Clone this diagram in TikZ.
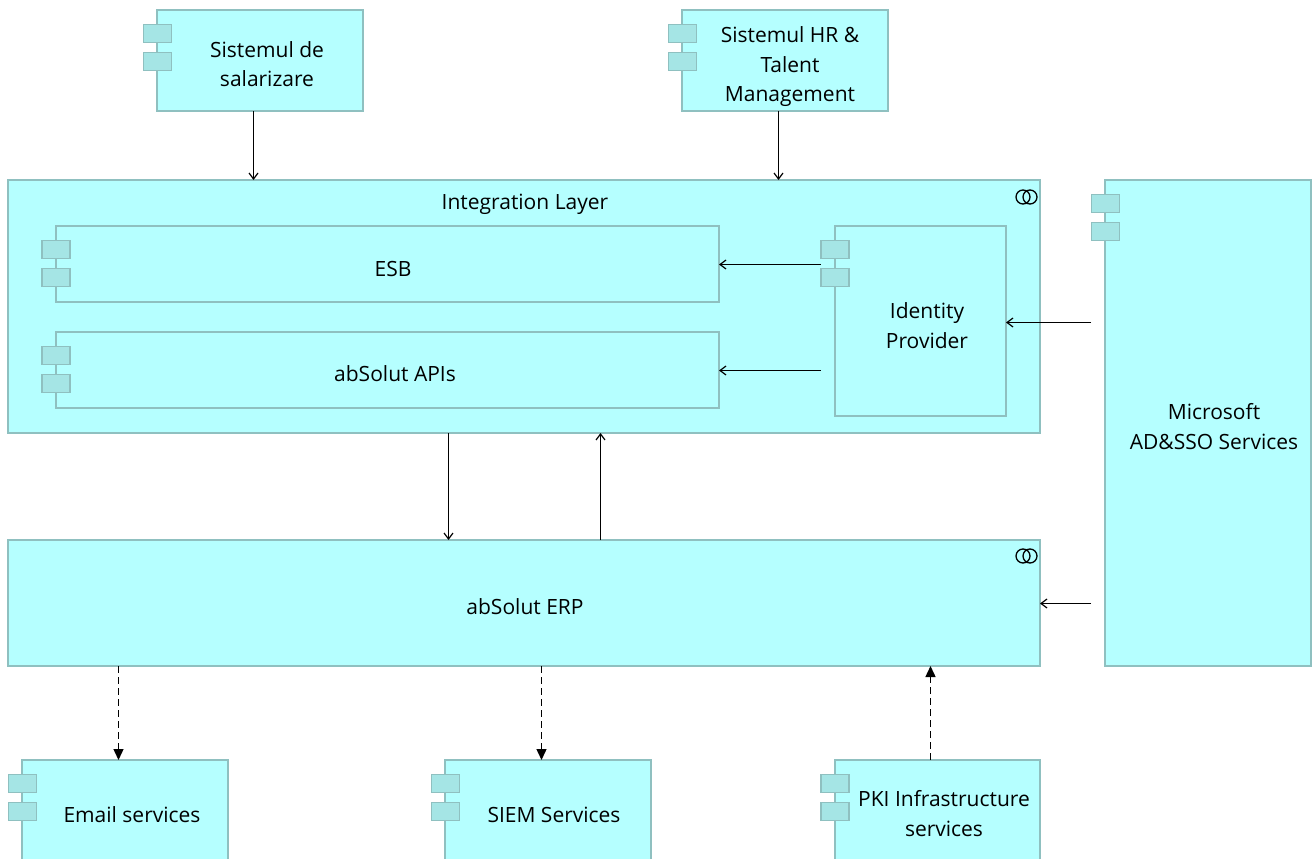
\documentclass[tikz,border=0pt]{standalone}
\usepackage{fontspec}
\setmainfont{Open Sans}
\usetikzlibrary{arrows.meta,calc}
\definecolor{boxfill}{HTML}{B5FFFF}
\definecolor{boxline}{HTML}{8FC0C0}
\definecolor{tabfill}{HTML}{A5E5E5}
\tikzset{
  appbox/.style={draw=boxline,fill=boxfill,line width=1.2pt,anchor=north west,inner sep=0pt,outer sep=0pt},
  tabbox/.style={draw=boxline,fill=tabfill,line width=1.2pt,minimum width=28pt,minimum height=18.5pt,inner sep=0pt,outer sep=0pt},
  boxtext/.style={align=center,inner sep=0pt,font=\fontsize{21}{29.5}\selectfont},
  flow/.style={-{Straight Barb[length=6pt,width=9pt]},line width=1.2pt},
  depends/.style={-{Triangle[length=11pt,width=10pt]},line width=1.4pt,dash pattern=on 7pt off 4pt}
}
\begin{document}
\begin{tikzpicture}[x=1pt,y=-1pt]

      \clip (0,0) rectangle (1314,859);
      \fill[white] (0,0) rectangle (1314,859);

      % boxes
      \foreach \name/\xa/\ya/\w/\h in {sal/157/10/206/101,hr/682/10/206/101,
        int/8/180/1032/253,esb/56/226/663/76,api/56/332/663/76,idp/835/226/171/190,
        ms/1105/180/206/486,erp/8/540/1032/126,
        email/22/760/206/130,siem/445/760/206/130,pki/835/760/205/130}
        \node[appbox,minimum width=\w pt,minimum height=\h pt] (\name) at (\xa,\ya) {};

      % component tabs
      \foreach \name/\xt/\yt in {sal/157.5/10,hr/682.5/10,esb/56/226,api/56/332,idp/835/226,
        ms/1105.5/180,email/22.5/760,siem/445.5/760,pki/835/760}{
        \node[tabbox] (\name-tabA) at (\xt,\yt+23.5) {};
        \node[tabbox] (\name-tabB) at (\xt,\yt+51.5) {};
      }

      % collaboration rings
      \foreach \name/\yt in {int/197,erp/556}{
        \draw[line width=1.3pt] (1023,\yt) circle (7pt);
        \draw[line width=1.3pt] (1030,\yt) circle (7pt);
      }

      % labels
      \node[boxtext] (salText) at (267,64) {Sistemul de\\salarizare};
      \node[boxtext] (hrText) at (790,67) {Sistemul HR \&\\Talent\\Management};
      \node[boxtext] (intText) at (525,204) {Integration Layer};
      \node[boxtext] (esbText) at (393,268.5) {ESB};
      \node[boxtext] (apiText) at (395,374) {abSolut APIs};
      \node[boxtext] (idpText) at (927,325.5) {Identity\\Provider};
      \node[boxtext] (msText) at (1214,426.5) {Microsoft\\AD\&SSO Services};
      \node[boxtext] (erpText) at (525,607) {abSolut ERP};
      \node[boxtext] (emailText) at (132,814.5) {Email services};
      \node[boxtext] (siemText) at (554,814.5) {SIEM Services};
      \node[boxtext] (pkiText) at (944,813.5) {PKI Infrastructure\\services};

      % connectors
      \draw[flow] (253.5,0 |- sal.south) -- (253.5,0 |- int.north);
      \draw[flow] (778.5,0 |- hr.south) -- (778.5,0 |- int.north);
      \draw[flow] (0,264.5 -| idp.west) ++(-14.5,0) -- (0,264.5 -| esb.east);
      \draw[flow] (0,370.5 -| idp.west) ++(-14.5,0) -- (0,370.5 -| api.east);
      \draw[flow] (0,322.5 -| ms.west) ++(-14,0) -- (0,322.5 -| idp.east);
      \draw[flow] (0,603.5 -| ms.west) ++(-14,0) -- (0,603.5 -| erp.east);
      \draw[flow] (448.5,0 |- int.south) -- (448.5,0 |- erp.north);
      \draw[flow] (600.5,0 |- erp.north) -- (600.5,0 |- int.south);
      \draw[depends] (118.5,0 |- erp.south) -- (118.5,0 |- email.north);
      \draw[depends] (541.5,0 |- erp.south) -- (541.5,0 |- siem.north);
      \draw[depends] (930.5,0 |- pki.north) -- (930.5,0 |- erp.south);

    \end{tikzpicture}
\end{document}
